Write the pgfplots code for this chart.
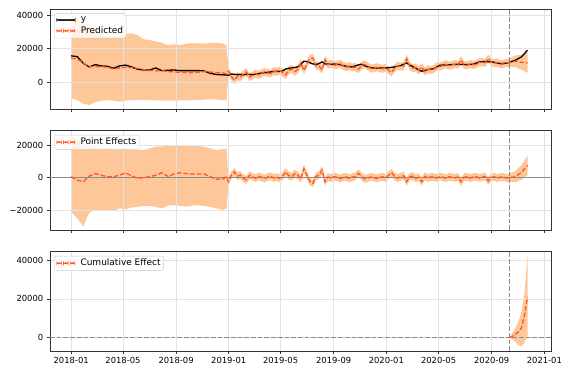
\documentclass[border=0pt]{standalone}
\usepackage{fontspec}
\setmainfont{DejaVu Sans}
\usepackage{pgfplots}
\pgfplotsset{compat=1.18}
\usepgfplotslibrary{fillbetween}
\usepackage{pgfplotstable}

\definecolor{bandc}{RGB}{253,199,153}
\definecolor{predc}{RGB}{255,87,34}
\definecolor{gridc}{RGB}{226,226,226}
\definecolor{refc}{RGB}{140,140,140}

\pgfplotstableread{
day yv pred lo hi
0 15600 14200 -9800 40000
14 15200 13800 -10700 38000
28 11200 11400 -13000 35000
42 9000 9000 -13700 32500
56 10400 9200 -12000 30500
70 9600 9200 -11200 28500
84 9400 8800 -10700 27000
98 8200 7800 -11200 27000
112 9600 8400 -11700 27500
126 10100 8800 -11200 28800
140 9000 8500 -10800 29000
154 7600 8100 -10700 28000
168 7200 7400 -10700 25500
182 7200 6900 -10800 25000
196 8400 6800 -10900 24200
210 6800 6800 -11000 23500
224 7000 6300 -11100 22000
238 7200 6000 -11100 22500
252 6800 5800 -11000 22000
266 6800 5600 -10900 22800
280 6800 5600 -10800 23200
294 6800 5800 -10700 23000
308 6600 6200 -10500 23000
322 5200 6000 -10300 23200
336 4500 5600 -10500 23500
350 4300 5400 -10700 23000
360 4200 5000 -10700 22000
364 4000 6500 4100 8900
371 4800 3300 900 5700
378 4600 1100 -1300 3500
385 4400 3400 1000 5800
392 4500 2900 500 5300
399 4300 4800 2400 7200
406 4600 6000 3600 8400
413 4500 3000 600 5400
420 4400 3900 1500 6300
427 4700 5000 2600 7400
434 5000 4200 1800 6600
441 5400 5200 2800 7600
448 5500 6100 3700 8500
455 5800 5400 3000 7800
462 6000 5100 2700 7500
469 6300 6500 4100 8900
476 6400 6100 3700 8500
483 6300 6800 4400 9200
490 6600 5600 3200 8000
497 7800 4300 1900 6700
504 8200 7000 4600 9400
511 8400 7800 5400 10200
518 8700 6200 3800 8600
525 9000 7500 5100 9900
532 10500 11300 8900 13700
539 12400 6900 4500 9300
546 12200 10700 8300 13100
553 11500 14000 11600 16400
560 10800 14300 11900 16700
567 10400 9600 7200 12000
574 11000 9500 7100 11900
581 12000 7300 4900 9700
588 10800 13300 10900 15700
595 10700 10300 7900 12700
602 10600 10900 8500 13300
609 10700 10100 7700 12500
616 10600 10300 7900 12700
623 10300 10900 8500 13300
630 9800 9600 7200 12000
637 9400 8900 6500 11300
644 9100 9500 7100 11900
651 9000 8700 6300 11100
658 9600 8900 6500 11300
665 10200 7500 5100 9900
672 10600 9600 7200 12000
679 9800 10600 8200 13000
686 9200 9500 7100 11900
693 8600 8200 5800 10600
700 8400 8200 5800 10600
707 8300 8800 6400 11200
714 8400 8300 5900 10700
721 8400 7800 5400 10200
728 8400 8600 6200 11000
735 8500 7000 4600 9400
742 8800 5800 3400 8200
749 9000 8200 5800 10600
756 9400 9700 7300 12100
763 9800 9300 6900 11700
770 10600 9400 7000 11800
777 11400 13900 11500 16300
784 10200 9600 7200 12000
791 9200 8300 5900 10700
798 8300 8700 6300 11100
805 7200 6900 4500 9300
812 6400 8900 6500 11300
819 7000 6200 3800 8600
826 7400 7600 5200 10000
833 7700 7200 4800 9600
840 8000 7700 5300 10100
847 9000 9300 6900 11700
854 10000 9200 6800 11600
861 10100 9900 7500 12300
868 10200 10600 8200 13000
875 10300 9800 7400 12200
882 10400 10100 7700 12500
889 10500 10700 8300 13100
896 10600 10200 7800 12600
903 10500 13000 10600 15400
910 10400 10200 7800 12600
917 10400 9900 7500 12300
924 10500 10800 8400 13200
931 10600 10200 7800 12600
938 11200 10600 8200 13000
945 12000 11800 9400 14200
952 12100 11800 9400 14200
959 12200 11500 9100 13900
966 12100 14100 11700 16500
973 12000 11800 9400 14200
980 11800 11300 8900 13700
987 11300 11600 9200 14000
994 11000 10600 8200 13000
1001 11100 10800 8400 13200
1008 11200 11400 9000 13800
1015 11600 11600 9100 14100
1022 12400 12100 9100 15100
1029 13000 12400 8900 15900
1036 14000 12000 8000 16000
1043 15000 11800 7300 16300
1050 17000 11600 6400 16800
1057 19000 11500 5500 17500
}\tA

\pgfplotstableread{
day eff elo ehi
0 600 -21000 26000
14 -1400 -25000 23000
28 -2500 -30000 21000
42 1000 -21500 19500
56 2500 -19900 19000
70 1500 -19900 18500
84 600 -20500 18000
98 600 -20200 18000
112 1500 -18900 17500
126 3000 -19500 17500
140 1000 -18400 17000
154 -400 -18000 17000
168 0 -17500 17000
182 600 -17400 18000
196 1500 -18000 19000
210 3000 -18900 19200
224 800 -17200 19500
238 2200 -16800 20000
252 3000 -17500 20000
266 2500 -17800 20000
280 2200 -17200 20000
294 2200 -17000 19500
308 2200 -17500 19000
322 600 -18000 18000
336 -1000 -18900 17000
350 -1000 -19900 17500
360 600 -19000 18000
364 -2500 -4900 -100
371 1500 -900 3900
378 3500 1100 5900
385 1000 -1400 3400
392 1600 -800 4000
399 -500 -2900 1900
406 -1400 -3800 1000
413 1500 -900 3900
420 500 -1900 2900
427 -300 -2700 2100
434 800 -1600 3200
441 200 -2200 2600
448 -600 -3000 1800
455 400 -2000 2800
462 900 -1500 3300
469 -200 -2600 2200
476 300 -2100 2700
483 -500 -2900 1900
490 1000 -1400 3400
497 3500 1100 5900
504 1200 -1200 3600
511 600 -1800 3000
518 2500 100 4900
525 1500 -900 3900
532 -800 -3200 1600
539 5500 3100 7900
546 1500 -900 3900
553 -2500 -4900 -100
560 -3500 -5900 -1100
567 800 -1600 3200
574 1500 -900 3900
581 4700 2300 7100
588 -2500 -4900 -100
595 400 -2000 2800
602 -300 -2700 2100
609 600 -1800 3000
616 300 -2100 2700
623 -600 -3000 1800
630 200 -2200 2600
637 500 -1900 2900
644 -400 -2800 2000
651 300 -2100 2700
658 700 -1700 3100
665 2700 300 5100
672 1000 -1400 3400
679 -800 -3200 1600
686 -300 -2700 2100
693 400 -2000 2800
700 200 -2200 2600
707 -500 -2900 1900
714 100 -2300 2500
721 600 -1800 3000
728 -200 -2600 2200
735 1500 -900 3900
742 3000 600 5400
749 800 -1600 3200
756 -300 -2700 2100
763 500 -1900 2900
770 1200 -1200 3600
777 -2500 -4900 -100
784 600 -1800 3000
791 900 -1500 3300
798 -400 -2800 2000
805 300 -2100 2700
812 -2500 -4900 -100
819 800 -1600 3200
826 -200 -2600 2200
833 500 -1900 2900
840 300 -2100 2700
847 -300 -2700 2100
854 800 -1600 3200
861 200 -2200 2600
868 -400 -2800 2000
875 500 -1900 2900
882 300 -2100 2700
889 -200 -2600 2200
896 400 -2000 2800
903 -2500 -4900 -100
910 200 -2200 2600
917 500 -1900 2900
924 -300 -2700 2100
931 400 -2000 2800
938 600 -1800 3000
945 -200 -2600 2200
952 300 -2100 2700
959 700 -1700 3100
966 -2000 -4400 400
973 200 -2200 2600
980 500 -1900 2900
987 -300 -2700 2100
994 400 -2000 2800
1001 300 -2100 2700
1008 -200 -2600 2200
1015 0 -2500 2500
1022 300 -2700 3300
1029 600 -2900 4100
1036 2000 -2000 6000
1043 3200 -1300 7700
1050 5400 200 10600
1057 7500 1500 13500
}\tB

\pgfplotstableread{
day cum clo chi
1015 0 0 0
1022 700 -1000 2500
1029 1800 -2200 5000
1036 3000 -3800 8500
1043 5000 -4600 13000
1050 11500 -2500 23000
1057 21000 1000 42500
}\tC

\pgfplotsset{
  bstyle/.style={
    scale only axis, width=501.7pt, anchor=south west,
    xmin=-49, xmax=1113, hide axis,
  },
  cstyle/.style={
    scale only axis, width=501.7pt,
    anchor=south west,
    xmin=-49, xmax=1113,
    scaled y ticks=false, scaled x ticks=false,
    axis line style={black!80, line width=0.7pt},
    tick pos=left, tick align=outside, major tick length=3.2pt,
    tick style={black!80, line width=0.7pt},
    grid=major, major grid style={gridc, line width=0.7pt},
    xtick={0,120,243,365,485,608,730,851,974,1096},
    xticklabels={},
    tick label style={font=\fontsize{8.4}{10}\selectfont},
    legend cell align=left,
    legend style={at={(0,1)}, anchor=north west, xshift=4.3pt, yshift=-4.2pt,
      draw=black!20, rounded corners=2pt, fill=white, fill opacity=0.8, text opacity=1,
      font=\fontsize{9}{11}\selectfont, inner xsep=2pt, inner ysep=2pt,
      nodes={inner sep=1pt}, row sep=1.5pt,
      /tikz/every odd column/.append style={column sep=4.5pt}},
  },
  legy/.style={legend image code/.code={\fill[black, fill opacity=1] (0pt,-0.65pt) rectangle (18.5pt,0.65pt);}},
  legp/.style={legend image code/.code={%
    \fill[predc, fill opacity=1] (0pt,-0.65pt) rectangle (4.7pt,0.65pt);
    \fill[predc, fill opacity=1] (6.7pt,-0.65pt) rectangle (11.4pt,0.65pt);
    \fill[predc, fill opacity=1] (13.4pt,-0.65pt) rectangle (18.1pt,0.65pt);}},
}

\begin{document}
\begin{tikzpicture}

% ---------- Panel 1 ----------
\begin{axis}[bstyle, at={(50pt,270pt)}, height=99.7pt, ymin=-16100, ymax=43400]
\addplot[draw=none, name path=hiA, forget plot] table[x=day, y=hi] {\tA};
\addplot[draw=none, name path=loA, forget plot] table[x=day, y=lo] {\tA};
\addplot[fill=bandc, forget plot] fill between[of=hiA and loA];
\end{axis}
\begin{axis}[cstyle, at={(50pt,270pt)}, height=99.7pt,
  ymin=-16100, ymax=43400, ytick={0,20000,40000}, yticklabels={0,20000,40000}]
\addlegendimage{legy}
\addlegendentry{y}
\addlegendimage{legp}
\addlegendentry{Predicted}
\addplot[draw=refc, line width=1.3pt, dash pattern=on 4.7pt off 2pt, forget plot] coordinates {(1015,-16100) (1015,43400)};
\addplot[draw=black, line width=1.3pt, forget plot] table[x=day, y=yv] {\tA};
\addplot[draw=predc, line width=1.3pt, dash pattern=on 4.7pt off 2pt, forget plot] table[x=day, y=pred] {\tA};
\end{axis}

% ---------- Panel 2 ----------
\begin{axis}[bstyle, at={(50pt,149pt)}, height=99.3pt, ymin=-32200, ymax=28900]
\addplot[draw=none, name path=hiB, forget plot] table[x=day, y=ehi] {\tB};
\addplot[draw=none, name path=loB, forget plot] table[x=day, y=elo] {\tB};
\addplot[fill=bandc, forget plot] fill between[of=hiB and loB];
\end{axis}
\begin{axis}[cstyle, at={(50pt,149pt)}, height=99.3pt,
  ymin=-32200, ymax=28900, ytick={-20000,0,20000}, yticklabels={−20000,0,20000}]
\addlegendimage{legp}
\addlegendentry{Point Effects}
\addplot[draw=refc, line width=1.3pt, forget plot] coordinates {(-49,0) (1113,0)};
\addplot[draw=refc, line width=1.3pt, dash pattern=on 4.7pt off 2pt, forget plot] coordinates {(1015,-32200) (1015,28900)};
\addplot[draw=predc, line width=1.3pt, dash pattern=on 4.7pt off 2pt, forget plot] table[x=day, y=eff] {\tB};
\end{axis}

% ---------- Panel 3 ----------
\begin{axis}[bstyle, at={(50pt,28pt)}, height=99.3pt, ymin=-6860, ymax=44300]
\addplot[draw=none, name path=hiC, forget plot] table[x=day, y=chi] {\tC};
\addplot[draw=none, name path=loC, forget plot] table[x=day, y=clo] {\tC};
\addplot[fill=bandc, forget plot] fill between[of=hiC and loC];
\end{axis}
\begin{axis}[cstyle, at={(50pt,28pt)}, height=99.3pt,
  ymin=-6860, ymax=44300, ytick={0,20000,40000}, yticklabels={0,20000,40000},
  xticklabels={2018-01,2018-05,2018-09,2019-01,2019-05,2019-09,2020-01,2020-05,2020-09,2021-01}]
\addlegendimage{legp}
\addlegendentry{Cumulative Effect}
\addplot[draw=refc, line width=1.3pt, dash pattern=on 4.7pt off 2pt, forget plot] coordinates {(-49,0) (1113,0)};
\addplot[draw=refc, line width=1.3pt, dash pattern=on 4.7pt off 2pt, forget plot] coordinates {(1015,-6860) (1015,44300)};
\addplot[draw=predc, line width=1.3pt, dash pattern=on 4.7pt off 2pt, forget plot] table[x=day, y=cum] {\tC};
\end{axis}

\path (0,0) rectangle (575pt,379pt);
\end{tikzpicture}
\end{document}
